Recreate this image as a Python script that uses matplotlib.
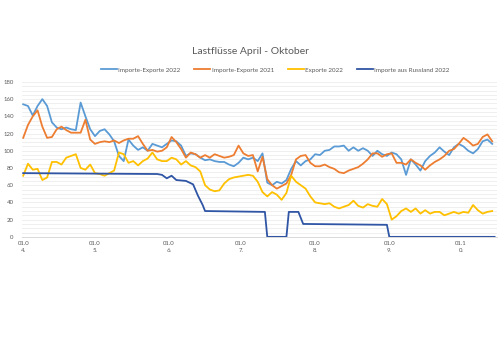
import numpy as np
import pandas as pd
import matplotlib
matplotlib.use('Agg')
import matplotlib.pyplot as plt

plt.rcParams['font.family'] = ['Lato', 'DejaVu Sans']

# sample dates every second day, 01.04.2022 - 14.10.2022
dates = pd.date_range('2022-04-01', periods=99, freq='2D')

imp_exp_2022 = [154, 152, 141, 152, 160, 152, 133, 127, 125, 127,
                125, 124, 156, 140, 125, 117, 123, 125, 119, 111,
                94, 88, 113, 106, 101, 104, 100, 108, 106, 104,
                108, 112, 111, 106, 94, 97, 96, 92, 89, 90,
                88, 87, 87, 84, 82, 86, 92, 90, 92, 88,
                97, 63, 60, 64, 62, 66, 79, 88, 83, 88,
                90, 96, 95, 100, 101, 105, 105, 106, 100, 104,
                100, 103, 100, 94, 100, 96, 94, 98, 96, 90,
                72, 90, 84, 77, 88, 94, 98, 104, 99, 95,
                104, 108, 105, 100, 97, 102, 111, 113, 108]

imp_exp_2021 = [115, 130, 140, 147, 128, 115, 116, 125, 128, 124,
                121, 121, 121, 136, 113, 108, 110, 111, 110, 112,
                109, 112, 114, 114, 117, 108, 100, 101, 99, 100,
                104, 116, 110, 102, 92, 98, 96, 92, 95, 92,
                96, 94, 92, 93, 95, 106, 97, 94, 95, 76,
                93, 67, 60, 56, 59, 62, 72, 90, 94, 95,
                86, 82, 82, 84, 81, 79, 75, 74, 77, 79,
                81, 85, 90, 97, 97, 93, 96, 97, 86, 86,
                84, 90, 86, 83, 78, 83, 87, 90, 94, 100,
                102, 108, 115, 111, 106, 108, 116, 119, 111]

exporte_2022 = [71, 85, 78, 79, 66, 69, 87, 87, 84, 92,
                94, 96, 80, 78, 84, 74, 73, 71, 74, 77,
                98, 96, 86, 88, 83, 88, 91, 98, 90, 88,
                88, 92, 90, 84, 88, 83, 81, 76, 60, 55,
                53, 54, 62, 67, 69, 70, 71, 72, 71, 64,
                52, 47, 52, 49, 43, 51, 71, 64, 60, 56,
                47, 40, 39, 38, 39, 35, 33, 35, 37, 42,
                36, 34, 38, 36, 35, 44, 38, 20, 24, 30,
                33, 29, 33, 27, 31, 27, 29, 29, 25, 27,
                29, 27, 29, 28, 37, 31, 27, 29, 30]

# Importe aus Russland: values only change at a few dates
ru_dates = pd.to_datetime(['2022-04-01', '2022-05-27', '2022-05-29', '2022-05-31',
                           '2022-06-02', '2022-06-04', '2022-06-08', '2022-06-11',
                           '2022-06-13', '2022-06-15', '2022-06-16', '2022-07-11',
                           '2022-07-12', '2022-07-20', '2022-07-21', '2022-07-25',
                           '2022-07-27', '2022-08-31', '2022-09-01', '2022-10-15'])
ru_values = [74, 73, 72, 68, 71, 66, 65, 61, 48, 37,
             30, 29, 0, 0, 29, 29, 15, 14, 0, 0]

tick_dates = pd.to_datetime(['2022-04-01', '2022-05-01', '2022-06-01', '2022-07-01',
                             '2022-08-01', '2022-09-01', '2022-10-01'])
tick_labels = ['01.0\n4.', '01.0\n5.', '01.0\n6.', '01.0\n7.', '01.0\n8.', '01.0\n9.', '01.1\n0.']

series = [
    ('Importe-Exporte 2022', dates, imp_exp_2022, '#5B9BD5'),
    ('Importe-Exporte 2021', dates, imp_exp_2021, '#ED7D31'),
    ('Exporte 2022', dates, exporte_2022, '#FFC000'),
    ('Importe aus Russland 2022', ru_dates, ru_values, '#2F55A4'),
]

fig = plt.figure(figsize=(5, 3.53), dpi=100)
ax = fig.add_axes([0.044, 0.329, 0.95, 0.439])

for label, x, y, color in series:
    ax.plot(x, y, color=color, lw=1.3, label=label, solid_joinstyle='round')

ax.set_ylim(0, 180)
ax.set_xlim(pd.Timestamp('2022-03-31 12:00'), pd.Timestamp('2022-10-16'))
ax.set_yticks(range(0, 181, 20))
ax.set_yticks(range(0, 181, 5), minor=True)
ax.grid(axis='y', which='both', color='#EDEDED', lw=0.6)
ax.set_axisbelow(True)

ax.set_xticks(tick_dates)
ax.set_xticklabels(tick_labels, linespacing=1.4)
ax.tick_params(axis='both', which='both', length=0, labelsize=4.3, colors='#595959')
ax.tick_params(axis='y', pad=6)
ax.tick_params(axis='x', pad=3)

for s in ['top', 'right', 'left']:
    ax.spines[s].set_visible(False)
ax.spines['bottom'].set_color('#D9D9D9')
ax.spines['bottom'].set_linewidth(0.7)

fig.text(0.5, 0.855, 'Lastflüsse April - Oktober', ha='center', va='center',
         fontsize=7.5, color='#595959')
fig.legend(loc='center', bbox_to_anchor=(0.55, 0.802), ncol=4, frameon=False,
           fontsize=4.5, handlelength=2.6, handletextpad=0.2, columnspacing=2.2,
           labelcolor='#595959')

fig.savefig('out.png', dpi=100, facecolor='white')
